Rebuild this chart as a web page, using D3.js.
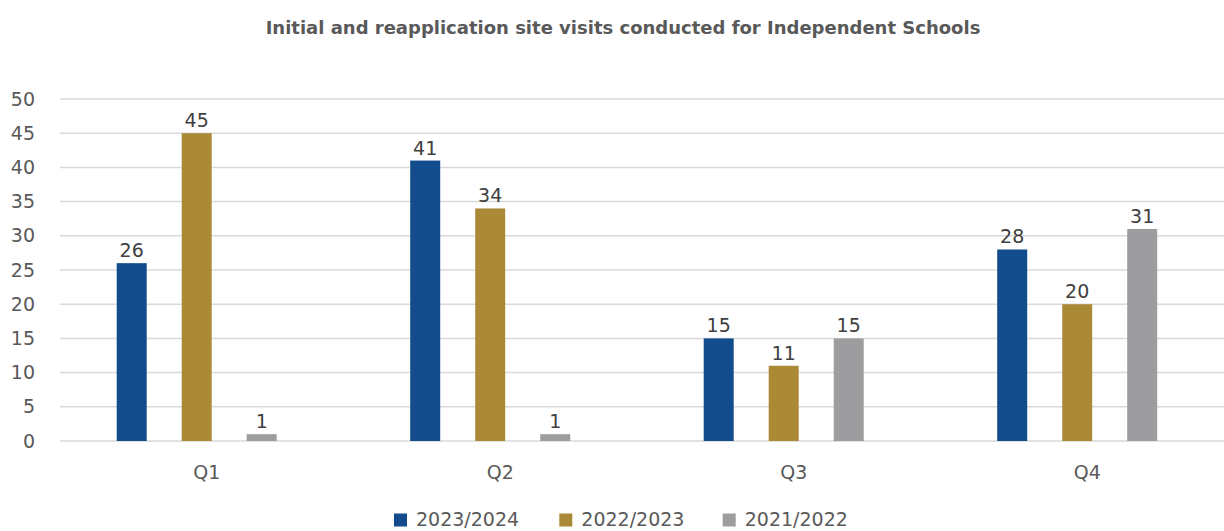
<!DOCTYPE html>
<html>
<head>
<meta charset="utf-8">
<script src="https://cdn.jsdelivr.net/npm/d3@7"></script>
<style>
  html, body { margin: 0; padding: 0; background: #fff; }
  svg { display: block; }
  text { font-family: "DejaVu Sans", sans-serif; }
</style>
</head>
<body>
<svg id="chart" width="1224" height="531"></svg>
<script>
// Chart data
const quarters = ["Q1", "Q2", "Q3", "Q4"];
const seriesNames = ["2023/2024", "2022/2023", "2021/2022"];
const values2023_24 = [26, 41, 15, 28];
const values2022_23 = [45, 34, 11, 20];
const values2021_22 = [1, 1, 15, 31];
const yTicks = [0, 5, 10, 15, 20, 25, 30, 35, 40, 45, 50];
const colors = ["#124C8C", "#AB8A37", "#9D9D9F"];
const title = "Initial and reapplication site visits conducted for Independent Schools";

const seriesValues = [values2023_24, values2022_23, values2021_22];

const svg = d3.select("#chart");
const plotLeft = 60, plotRight = 1224, plotTop = 99, plotBottom = 441;

const x = d3.scaleBand().domain(quarters).range([plotLeft, plotLeft + 4 * 293.5]).padding(0);
const xInner = d3.scaleBand().domain(seriesNames).range([56.7, 216.7])
  .paddingInner(35 / 65).paddingOuter(0);
const y = d3.scaleLinear().domain([0, 50]).range([plotBottom, plotTop]);

// Title
svg.append("text")
  .attr("x", 623).attr("y", 34)
  .attr("text-anchor", "middle")
  .attr("font-weight", "bold")
  .attr("font-size", 18)
  .attr("fill", "#595959")
  .text(title);

// Gridlines
svg.append("g").selectAll("line").data(yTicks).join("line")
  .attr("x1", plotLeft).attr("x2", plotRight)
  .attr("y1", d => y(d)).attr("y2", d => y(d))
  .attr("stroke", "#D9D9D9").attr("stroke-width", 1.5);

// Y axis labels
const yAxis = d3.axisLeft(y).tickValues(yTicks).tickSize(0).tickPadding(0);
const gy = svg.append("g").attr("transform", "translate(35,0)").call(yAxis);
gy.select(".domain").remove();
gy.selectAll("text").attr("font-size", 19).attr("fill", "#595959")
  .attr("font-family", "DejaVu Sans, sans-serif");

// X axis labels
const xAxis = d3.axisBottom(x).tickSize(0).tickPadding(0);
const gx = svg.append("g").attr("transform", `translate(0,${plotBottom})`).call(xAxis);
gx.select(".domain").remove();
gx.selectAll("text").attr("font-size", 19).attr("fill", "#595959")
  .attr("font-family", "DejaVu Sans, sans-serif")
  .attr("dy", null).attr("y", 38);

// Bars
const rows = [];
quarters.forEach((q, qi) => {
  seriesNames.forEach((s, si) => {
    rows.push({ q, s, si, v: seriesValues[si][qi] });
  });
});

svg.append("g").selectAll("rect").data(rows).join("rect")
  .attr("x", d => x(d.q) + xInner(d.s))
  .attr("width", xInner.bandwidth())
  .attr("y", d => y(d.v))
  .attr("height", d => y(0) - y(d.v))
  .attr("fill", d => colors[d.si]);

// Value labels
svg.append("g").selectAll("text").data(rows).join("text")
  .attr("x", d => x(d.q) + xInner(d.s) + xInner.bandwidth() / 2)
  .attr("y", d => y(d.v) - 6)
  .attr("text-anchor", "middle")
  .attr("font-size", 19)
  .attr("fill", "#404040")
  .text(d => d.v);

// Legend
const legendX = [394, 559.3, 722.7];
const legend = svg.append("g").selectAll("g").data(seriesNames).join("g")
  .attr("transform", (d, i) => `translate(${legendX[i]},513.5)`);
legend.append("rect").attr("width", 13).attr("height", 13)
  .attr("fill", (d, i) => colors[i]);
legend.append("text").attr("x", 22).attr("y", 12.5)
  .attr("font-size", 19).attr("fill", "#595959")
  .text(d => d);
</script>
</body>
</html>
